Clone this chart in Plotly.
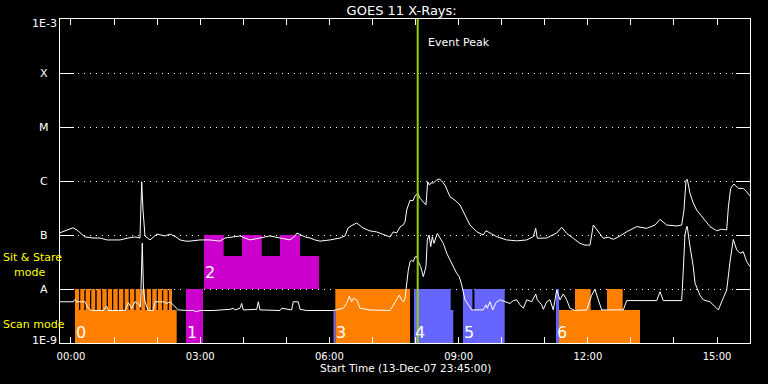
import math
import plotly.graph_objects as go

# ---------------- data ----------------
# hours after 00:00 (start time 13-Dec-07 23:45:00), flux in W/m^2
long_t = [-0.255, 0.046, 0.139, 0.325, 0.511, 0.673, 0.836, 0.975, 1.138, 1.323,
          1.486, 1.602, 1.642, 1.672, 1.718, 1.834, 1.997, 2.183, 2.299, 2.438,
          2.531, 2.670, 2.763, 2.995, 3.227, 3.459, 3.576, 3.924, 4.156, 4.388,
          4.620, 4.853, 5.085, 5.201, 5.247, 5.433, 5.549, 5.665, 5.781, 6.014,
          6.246, 6.362, 6.432, 6.501, 6.634, 6.780, 6.942, 7.098, 7.330, 7.407,
          7.483, 7.562, 7.639, 7.708, 7.755, 7.794, 7.871, 7.940, 7.987, 8.057,
          8.103, 8.196, 8.242, 8.282, 8.320, 8.352, 8.412, 8.491, 8.551, 8.607,
          8.684, 8.800, 8.916, 9.032, 9.148, 9.264, 9.419, 9.572, 9.635, 9.728,
          9.884, 10.116, 10.348, 10.580, 10.734, 10.790, 10.827, 11.045, 11.277, 11.393,
          11.509, 11.662, 11.818, 11.934, 12.050, 12.127, 12.206, 12.359, 12.475, 12.591,
          12.747, 12.902, 13.135, 13.367, 13.559, 13.676, 13.831, 14.063, 14.179, 14.232,
          14.279, 14.309, 14.372, 14.448, 14.527, 14.680, 14.836, 14.992, 15.108, 15.224,
          15.263, 15.317, 15.393, 15.493, 15.609, 15.689, 15.765]
long_flux = [1.10e-7, 1.36e-7, 1.24e-7, 9.2e-8, 8.8e-8, 8.8e-8, 8.1e-8, 8.1e-8, 8.1e-8, 8.8e-8,
             9.2e-8, 8.8e-8, 9.7e-7, 2.9e-7, 9.6e-8, 8.1e-8, 1.04e-7, 9.6e-8, 1.04e-7, 9.2e-8,
             8.1e-8, 7.7e-8, 7.7e-8, 8.1e-8, 8.1e-8, 7.7e-8, 8.8e-8, 9.6e-8, 8.1e-8, 8.8e-8,
             9.6e-8, 8.8e-8, 8.1e-8, 9.6e-8, 1.09e-7, 9.2e-8, 8.8e-8, 8.1e-8, 7.7e-8, 8.1e-8,
             8.8e-8, 9.6e-8, 1.35e-7, 1.47e-7, 1.67e-7, 1.35e-7, 1.19e-7, 1.14e-7, 9.6e-8, 9.2e-8,
             1.14e-7, 1.09e-7, 1.41e-7, 1.53e-7, 1.74e-7, 2.9e-7, 4.4e-7, 4.3e-7, 5.3e-7, 5.9e-7,
             4.8e-7, 3.9e-7, 3.6e-7, 9.7e-7, 8.4e-7, 9.2e-7, 9.2e-7, 1.04e-6, 1.09e-6, 1.0e-6,
             8.4e-7, 5.1e-7, 4.4e-7, 3.6e-7, 2.3e-7, 1.53e-7, 1.15e-7, 1.0e-7, 1.20e-7, 1.09e-7,
             9.3e-8, 8.1e-8, 7.8e-8, 8.1e-8, 9.3e-8, 1.33e-7, 8.7e-8, 8.8e-8, 1.09e-7, 1.39e-7,
             1.07e-7, 8.7e-8, 7.0e-8, 6.5e-8, 6.5e-8, 1.53e-7, 1.24e-7, 8.7e-8, 9.1e-8, 8.3e-8,
             9.6e-8, 1.15e-7, 1.43e-7, 1.33e-7, 1.53e-7, 1.95e-7, 1.53e-7, 1.47e-7, 1.53e-7, 2.9e-7,
             1.04e-6, 1.07e-6, 5.9e-7, 3.9e-7, 2.9e-7, 2.0e-7, 1.43e-7, 1.20e-7, 1.28e-7, 1.24e-7,
             3.3e-7, 7.3e-7, 8.8e-7, 7.3e-7, 7.3e-7, 6.3e-7, 5.3e-7]

short_t = [-0.255, 0.053, 0.093, 0.132, 0.325, 0.402, 0.481, 0.750, 0.829, 0.866,
           1.254, 1.330, 1.409, 1.486, 1.563, 1.614, 1.655, 1.683, 1.718, 1.795,
           1.911, 1.950, 2.143, 2.222, 2.299, 2.375, 2.491, 2.686, 2.840, 2.918,
           2.995, 3.304, 3.615, 3.692, 3.768, 3.808, 3.924, 3.963, 4.000, 4.312,
           4.349, 4.388, 4.853, 4.892, 5.124, 5.161, 5.277, 5.317, 5.473, 6.090,
           6.322, 6.401, 6.462, 6.517, 6.555, 6.634, 6.710, 6.826, 6.942, 7.407,
           7.483, 7.562, 7.622, 7.678, 7.716, 7.755, 7.794, 7.831, 7.871, 7.910,
           7.947, 7.987, 8.026, 8.064, 8.119, 8.180, 8.242, 8.273, 8.312, 8.352,
           8.389, 8.428, 8.505, 8.567, 8.644, 8.723, 8.800, 8.876, 8.955, 9.015,
           9.071, 9.148, 9.225, 9.303, 9.572, 9.635, 9.665, 9.728, 9.791, 9.868,
           9.960, 10.116, 10.193, 10.269, 10.348, 10.425, 10.502, 10.580, 10.697, 10.790,
           10.827, 10.929, 10.966, 11.045, 11.121, 11.198, 11.277, 11.354, 11.430, 11.509,
           11.586, 11.702, 11.973, 12.090, 12.166, 12.243, 12.322, 12.823, 12.902, 13.599,
           13.676, 13.752, 14.179, 14.216, 14.255, 14.295, 14.309, 14.372, 14.448, 14.488,
           14.604, 14.680, 14.836, 14.992, 15.029, 15.108, 15.224, 15.301, 15.377, 15.456,
           15.533, 15.609, 15.689, 15.765]
short_flux = [5.8e-9, 5.8e-9, 6.4e-9, 5.8e-9, 5.8e-9, 4.4e-9, 4.0e-9, 4.0e-9, 4.8e-9, 4.0e-9,
              4.0e-9, 5.6e-9, 4.4e-9, 5.8e-9, 5.4e-9, 4.6e-9, 7.1e-8, 9.6e-9, 5.8e-9, 4.0e-9,
              4.0e-9, 5.8e-9, 5.8e-9, 5.4e-9, 5.8e-9, 5.1e-9, 4.1e-9, 4.0e-9, 4.0e-9, 3.8e-9,
              4.0e-9, 4.0e-9, 4.1e-9, 4.2e-9, 4.4e-9, 4.1e-9, 4.4e-9, 5.4e-9, 4.1e-9, 4.2e-9,
              5.8e-9, 4.1e-9, 4.0e-9, 4.4e-9, 4.1e-9, 5.8e-9, 5.8e-9, 4.2e-9, 4.0e-9, 4.0e-9,
              4.4e-9, 5.4e-9, 7.4e-9, 5.8e-9, 6.7e-9, 6.3e-9, 4.4e-9, 4.2e-9, 4.1e-9, 4.0e-9,
              5.1e-9, 6.3e-9, 7.7e-9, 6.3e-9, 5.8e-9, 6.7e-9, 1.28e-8, 2.2e-8, 3.2e-8, 3.4e-8,
              3.2e-8, 3.9e-8, 4.0e-8, 3.2e-8, 2.6e-8, 1.69e-8, 2.6e-8, 8.1e-8, 1.0e-7, 6.1e-8,
              9.3e-8, 7.0e-8, 1.07e-7, 8.7e-8, 7.0e-8, 4.6e-8, 3.4e-8, 2.6e-8, 1.95e-8, 1.69e-8,
              1.19e-8, 6.3e-9, 5.1e-9, 4.1e-9, 4.1e-9, 5.1e-9, 4.4e-9, 5.8e-9, 4.1e-9, 5.6e-9,
              6.3e-9, 5.6e-9, 5.4e-9, 6.1e-9, 6.3e-9, 5.1e-9, 4.4e-9, 6.3e-9, 5.8e-9, 8.1e-9,
              6.3e-9, 5.1e-9, 4.2e-9, 5.8e-9, 6.3e-9, 4.1e-9, 9.6e-9, 6.3e-9, 8.1e-9, 6.3e-9,
              4.4e-9, 4.0e-9, 4.1e-9, 7.7e-9, 9.9e-9, 6.3e-9, 4.1e-9, 4.1e-9, 6.1e-9, 6.1e-9,
              8.9e-9, 6.1e-9, 6.1e-9, 2.2e-8, 1.0e-7, 1.43e-7, 1.43e-7, 6.1e-8, 2.6e-8, 1.29e-8,
              7.7e-9, 6.3e-9, 5.8e-9, 4.4e-9, 4.1e-9, 5.8e-9, 9.6e-9, 3.2e-8, 8.3e-8, 5.3e-8,
              4.6e-8, 4.9e-8, 3.2e-8, 2.6e-8]

# observing-mode blocks (start hour, end hour, low level, high level)
orange_start = [0.093, 6.137, 11.330, 11.702, 12.445,
                0.093, 0.216, 0.341, 0.471, 0.597, 0.727, 0.859, 0.982, 1.114,
                1.247, 1.370, 1.502, 1.632, 1.758, 1.888, 2.020, 2.143, 2.275]
orange_end = [2.454, 7.871, 13.211, 12.067, 12.809,
              0.186, 0.309, 0.441, 0.564, 0.697, 0.829, 0.952, 1.084, 1.214,
              1.340, 1.470, 1.602, 1.725, 1.857, 1.990, 2.113, 2.245, 2.345]
orange_low = [1e-9, 1e-9, 1e-9, 4.1e-9, 4.1e-9] + [4.1e-9] * 18
orange_high = [4.1e-9, 1e-8, 4.1e-9, 1e-8, 1e-8] + [1e-8] * 18

magenta_start = [2.670, 3.088, 3.088, 3.970, 4.853]
magenta_end = [3.065, 5.758, 3.545, 4.428, 5.317]
magenta_low = [1e-9, 1e-8, 1e-8, 1e-8, 1e-8]
magenta_high = [1e-8, 4.1e-8, 1e-7, 1e-7, 1e-7]

blue_start = [6.095, 7.964, 8.816, 9.101, 9.101, 9.368, 11.261]
blue_end = [6.137, 8.816, 8.876, 10.070, 9.320, 10.070, 11.330]
blue_low = [1e-9, 1e-9, 1e-9, 1e-9, 4.1e-9, 4.1e-9, 1e-9]
blue_high = [4.1e-9, 1e-8, 4.1e-9, 4.1e-9, 1e-8, 1e-8, 1e-8]

mode_label_text = ["0", "1", "2", "3", "4", "5", "6"]
mode_label_t = [0.093, 2.670, 3.088, 6.137, 7.964, 9.101, 11.261]
mode_label_row = ["scan", "scan", "stare", "scan", "scan", "scan", "scan"]

event_peak_t = 8.05

x_tick_vals = list(range(0, 16))
x_tick_text = ["00:00", "", "", "03:00", "", "", "06:00", "", "", "09:00",
               "", "", "12:00", "", "", "15:00"]
y_tick_vals = [1e-9, 1e-8, 1e-7, 1e-6, 1e-5, 1e-4, 1e-3]
y_tick_text = ["1E-9", "A", "B", "C", "M", "X", "1E-3"]

# ---------------- figure ----------------
ORANGE = "#ff8000"
MAGENTA = "#cc00cc"
BLUE = "#6666ff"
FONT = "DejaVu Sans"


def rects(starts, ends, lows, highs):
    xs, ys = [], []
    for s, e, lo, hi in zip(starts, ends, lows, highs):
        xs += [s, e, e, s, s, None]
        ys += [lo, lo, hi, hi, lo, None]
    return xs, ys


fig = go.Figure()
for (st, en, lo, hi, col) in [
    (orange_start, orange_end, orange_low, orange_high, ORANGE),
    (magenta_start, magenta_end, magenta_low, magenta_high, MAGENTA),
    (blue_start, blue_end, blue_low, blue_high, BLUE),
]:
    xs, ys = rects(st, en, lo, hi)
    fig.add_trace(go.Scatter(x=xs, y=ys, mode="lines", fill="toself",
                             fillcolor=col, line=dict(width=0, color=col),
                             hoverinfo="skip"))

fig.add_trace(go.Scatter(x=long_t, y=long_flux, mode="lines",
                         line=dict(color="white", width=1)))
fig.add_trace(go.Scatter(x=short_t, y=short_flux, mode="lines",
                         line=dict(color="white", width=1)))
fig.add_trace(go.Scatter(x=[event_peak_t, event_peak_t], y=[1e-9, 1e-3],
                         mode="lines", line=dict(color="#99cc00", width=2)))

ann = []
for v, t in zip(y_tick_vals, y_tick_text):
    ys = 0
    if t == "1E-3":
        ys = -4
    elif t == "1E-9":
        ys = 3
    ann.append(dict(x=0, xref="paper", xshift=-16, xanchor="center",
                    y=math.log10(v), yref="y", yanchor="middle", yshift=ys,
                    text=t, showarrow=False, font=dict(size=11, color="white")))

for t, x, row in zip(mode_label_text, mode_label_t, mode_label_row):
    yp = 0.031 if row == "scan" else 0.219
    ann.append(dict(x=x, xref="x", xanchor="left", xshift=-1,
                    y=yp, yref="paper", yanchor="middle",
                    text=t, showarrow=False, font=dict(size=16, color="white")))

ann.append(dict(x=event_peak_t, xref="x", xanchor="left", xshift=8,
                y=0.927, yref="paper", yanchor="middle", text="Event Peak",
                showarrow=False, font=dict(size=11, color="white")))
ann.append(dict(x=0, xref="paper", xshift=-58, xanchor="left",
                y=0.263, yref="paper", yanchor="middle", text="Sit & Stare",
                showarrow=False, borderpad=0, font=dict(size=11, color="yellow")))
ann.append(dict(x=0, xref="paper", xshift=-47, xanchor="left",
                y=0.218, yref="paper", yanchor="middle", text="mode",
                showarrow=False, borderpad=0, font=dict(size=11, color="yellow")))
ann.append(dict(x=0, xref="paper", xshift=-58, xanchor="left",
                y=0.0586, yref="paper", yanchor="middle", text="Scan mode",
                showarrow=False, borderpad=0, font=dict(size=11, color="yellow")))
ann.append(dict(x=0.5, xref="paper", xanchor="center",
                y=-0.077, yref="paper", yanchor="middle",
                text="Start Time (13-Dec-07 23:45:00)",
                showarrow=False, font=dict(size=10.5, color="white")))

fig.update_layout(
    width=768, height=384,
    paper_bgcolor="black", plot_bgcolor="black",
    margin=dict(l=60, r=18, t=19, b=41),
    showlegend=False,
    font=dict(family=FONT, color="white", size=10),
    title=dict(text="GOES 11 X-Rays:", x=0.523, xref="container", xanchor="center",
               y=0.974, yref="container", yanchor="middle",
               font=dict(size=13, color="white", family=FONT)),
    annotations=ann,
)
fig.update_xaxes(range=[-0.255, 15.765], tickmode="array", tickvals=x_tick_vals,
                 ticktext=x_tick_text, ticks="inside", ticklen=6, tickwidth=1,
                 tickcolor="white", showline=True, linecolor="white", linewidth=1,
                 mirror="ticks", showgrid=False, zeroline=False,
                 tickfont=dict(size=10, color="white"), ticklabelstandoff=4)
fig.update_yaxes(type="log", range=[-9, -3], tickmode="array", tickvals=y_tick_vals,
                 showticklabels=False, ticks="inside", ticklen=14, tickwidth=1,
                 tickcolor="white", showline=True, linecolor="white", linewidth=1,
                 mirror="ticks", showgrid=True, gridcolor="white", gridwidth=1,
                 griddash="1px,5px", zeroline=False)

fig.write_html("out.html", config={"displayModeBar": False},
               post_script="document.body.style.margin='0';"
                           "document.body.style.background='black';")
